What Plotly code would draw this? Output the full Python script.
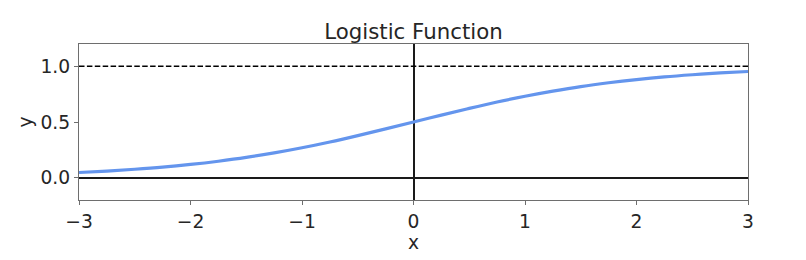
import plotly.graph_objects as go

x_vals = [-3.0, -2.75, -2.5, -2.25, -2.0, -1.75, -1.5, -1.25, -1.0, -0.75, -0.5, -0.25,
          0.0, 0.25, 0.5, 0.75, 1.0, 1.25, 1.5, 1.75, 2.0, 2.25, 2.5, 2.75, 3.0]
y_vals = [0.047, 0.060, 0.076, 0.095, 0.119, 0.148, 0.182, 0.223, 0.269, 0.321, 0.378, 0.438,
          0.500, 0.562, 0.622, 0.679, 0.731, 0.777, 0.818, 0.852, 0.881, 0.905, 0.924, 0.940, 0.953]
asymptote = 1.0
x_ticks = [-3, -2, -1, 0, 1, 2, 3]
x_tick_labels = ["\u22123", "\u22122", "\u22121", "0", "1", "2", "3"]
y_ticks = [0.0, 0.5, 1.0]
y_tick_labels = ["0.0", "0.5", "1.0"]

FONT = "DejaVu Sans"
FRAME = "#6e6e6e"
TXT = "#262626"

fig = go.Figure()
fig.add_trace(go.Scatter(x=x_vals, y=y_vals, mode="lines",
                         line=dict(color="#6495ED", width=3.2, shape="spline"),
                         showlegend=False, hoverinfo="skip"))

fig.add_shape(type="line", xref="paper", yref="y", x0=0, x1=1, y0=asymptote, y1=asymptote,
              line=dict(color="black", width=1.6, dash="5.5px,2.4px"))

fig.update_layout(
    width=806, height=260,
    margin=dict(l=79, r=58, t=44, b=60),
    paper_bgcolor="white", plot_bgcolor="white",
    font=dict(family=FONT, color=TXT, size=18.7),
    title=dict(text="Logistic Function", x=0.5, xref="paper", xanchor="center",
               y=1, yref="paper", yanchor="bottom", pad=dict(b=5),
               font=dict(family=FONT, size=21.3, color=TXT)),
)
fig.update_xaxes(range=[-3, 3], tickvals=x_ticks, ticktext=x_tick_labels,
                 showgrid=False, zeroline=True, zerolinecolor="#1a1a1a", zerolinewidth=1.8,
                 showline=True, linecolor=FRAME, linewidth=1.3, mirror=True,
                 ticks="outside", ticklen=4, tickcolor=FRAME, tickwidth=1.2,
                 title=dict(text="x", standoff=0, font=dict(size=18.7)))
fig.update_yaxes(range=[-0.2, 1.2], tickvals=y_ticks, ticktext=y_tick_labels,
                 showgrid=False, zeroline=True, zerolinecolor="#1a1a1a", zerolinewidth=1.8,
                 showline=True, linecolor=FRAME, linewidth=1.3, mirror=True,
                 ticks="outside", ticklen=4, tickcolor=FRAME, tickwidth=1.2,
                 title=dict(text="y", standoff=2, font=dict(size=18.7)))

fig.write_html("out.html")
